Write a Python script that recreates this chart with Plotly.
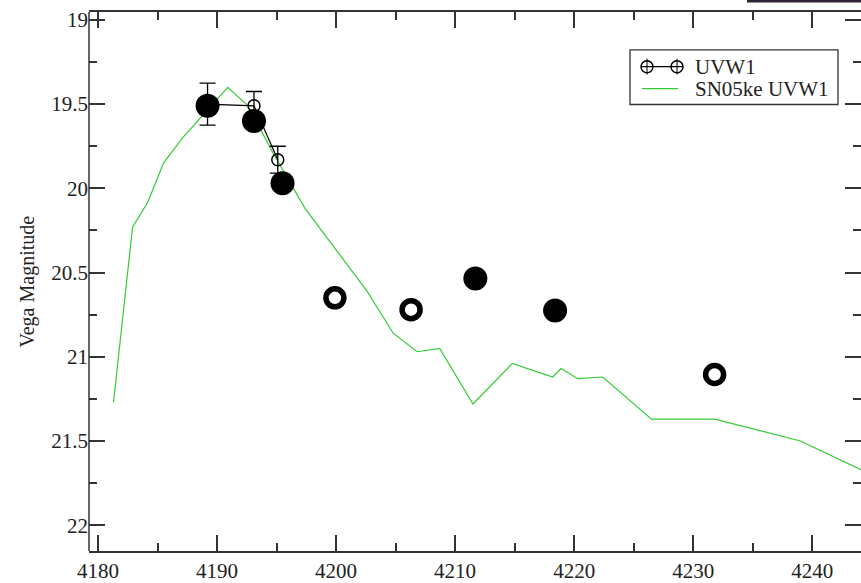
import plotly.graph_objects as go

# ---- data ----
uvw1_x = [4189.2, 4193.1, 4195.1]
uvw1_y = [19.50, 19.51, 19.83]
uvw1_err = [0.125, 0.085, 0.08]

filled_x = [4189.2, 4193.1, 4195.5, 4211.7, 4218.4]
filled_y = [19.51, 19.60, 19.97, 20.535, 20.725]

open_x = [4199.9, 4206.3, 4231.8]
open_y = [20.65, 20.72, 21.105]

sn05ke_x = [4181.3, 4182.9, 4184.2, 4185.5, 4187.1, 4188.6, 4190.9, 4192.6, 4194.7,
            4197.4, 4200.6, 4202.6, 4204.8, 4206.8, 4208.7, 4211.5, 4214.8, 4218.2,
            4218.9, 4220.3, 4222.4, 4226.5, 4229.2, 4231.8, 4239.0, 4244.1]
sn05ke_y = [21.27, 20.23, 20.08, 19.85, 19.70, 19.58, 19.40, 19.51, 19.79,
            20.12, 20.42, 20.61, 20.86, 20.97, 20.95, 21.28, 21.04, 21.12,
            21.07, 21.13, 21.12, 21.37, 21.37, 21.37, 21.50, 21.67]

x_ticks = [4180, 4190, 4200, 4210, 4220, 4230, 4240]
y_ticks = [19, 19.5, 20, 20.5, 21, 21.5, 22]

legend_labels = ["UVW1", "SN05ke UVW1"]

FONT = "'Liberation Serif', 'DejaVu Serif', 'Times New Roman', serif"
GREEN = "#33cc33"
W, H = 861, 583
ML, MR, MT, MB = 89, 0, 12, 29
PW, PH = W - ML - MR, H - MT - MB


def px(x):
    return (x - ML) / PW


def py(y):
    return (H - MB - y) / PH


fig = go.Figure()

fig.add_trace(go.Scatter(
    x=sn05ke_x, y=sn05ke_y, mode="lines", name=legend_labels[1], showlegend=False,
    line=dict(color=GREEN, width=1.2),
))

fig.add_trace(go.Scatter(
    x=uvw1_x, y=uvw1_y, mode="lines+markers", name=legend_labels[0], showlegend=False,
    line=dict(color="black", width=1.2),
    marker=dict(symbol="circle-open", size=12, color="black", line=dict(width=1.5)),
    error_y=dict(type="data", array=uvw1_err, visible=True, color="black",
                 thickness=1.3, width=8),
))

fig.add_trace(go.Scatter(
    x=filled_x, y=filled_y, mode="markers", showlegend=False,
    marker=dict(symbol="circle", size=24, color="black"),
))

fig.add_trace(go.Scatter(
    x=open_x, y=open_y, mode="markers", showlegend=False,
    marker=dict(symbol="circle-open", size=18, color="black", line=dict(width=5.5)),
))

# ---- manual legend (box, symbols, labels) ----
r = 6
shapes = [
    dict(type="line", xref="paper", yref="paper", x0=0, x1=0, y0=0, y1=1,
         line=dict(color="#333", width=1.5)),
    dict(type="rect", xref="paper", yref="paper", x0=px(747), x1=1.0,
         y0=py(2.5), y1=py(0), fillcolor="#2b2236", line=dict(width=0)),
    dict(type="rect", xref="paper", yref="paper", x0=px(630), x1=px(838),
         y0=py(105), y1=py(50), fillcolor="white", line=dict(color="#333", width=1.3)),
    dict(type="line", xref="paper", yref="paper", x0=px(641), x1=px(683),
         y0=py(67), y1=py(67), line=dict(color="black", width=1.2)),
    dict(type="line", xref="paper", yref="paper", x0=px(642), x1=px(678),
         y0=py(89), y1=py(89), line=dict(color=GREEN, width=1.2)),
]
for cx in (647, 677):
    shapes.append(dict(type="circle", xref="paper", yref="paper",
                       x0=px(cx - r), x1=px(cx + r), y0=py(67 + r), y1=py(67 - r),
                       line=dict(color="black", width=1.5)))
    shapes.append(dict(type="line", xref="paper", yref="paper",
                       x0=px(cx), x1=px(cx), y0=py(59), y1=py(75),
                       line=dict(color="black", width=1)))

annotations = [
    dict(text="Vega Magnitude", xref="paper", yref="paper",
         x=px(27), y=0.5, xanchor="center", yanchor="middle",
         textangle=-90, showarrow=False,
         font=dict(family=FONT, size=20, color="#222")),
    dict(text=legend_labels[0], xref="paper", yref="paper", x=px(693), y=py(67),
         xanchor="left", yanchor="middle", showarrow=False,
         font=dict(family=FONT, size=21, color="#222")),
    dict(text=legend_labels[1], xref="paper", yref="paper", x=px(693), y=py(89),
         xanchor="left", yanchor="middle", showarrow=False,
         font=dict(family=FONT, size=21, color="#222")),
]

fig.update_layout(
    width=W, height=H,
    margin=dict(l=ML, r=MR, t=MT, b=MB),
    paper_bgcolor="white", plot_bgcolor="white",
    font=dict(family=FONT, color="#222", size=21),
    showlegend=False,
    xaxis=dict(
        range=[4179.24, 4244.1], tickmode="array", tickvals=x_ticks,
        ticktext=[str(v) for v in x_ticks],
        showgrid=False, zeroline=False,
        showline=True, linecolor="#333", linewidth=1.5, mirror="allticks",
        ticks="inside", ticklen=16, tickwidth=1.5, tickcolor="#333",
        minor=dict(dtick=5, tick0=4180, ticks="inside", ticklen=8, tickwidth=1.5,
                   tickcolor="#333", showgrid=False),
        tickfont=dict(family=FONT, size=21, color="#222"),
    ),
    yaxis=dict(
        range=[22.153, 18.953], tickmode="array", tickvals=y_ticks,
        ticktext=[("%g" % v) for v in y_ticks],
        showgrid=False, zeroline=False,
        showline=False, mirror="allticks",
        ticks="inside", ticklen=16, tickwidth=1.5, tickcolor="#333",
        minor=dict(dtick=0.25, tick0=19, ticks="inside", ticklen=8, tickwidth=1.5,
                   tickcolor="#333", showgrid=False),
        tickfont=dict(family=FONT, size=21, color="#222"),
    ),
    annotations=annotations,
    shapes=shapes,
)

fig.write_html("out.html")
